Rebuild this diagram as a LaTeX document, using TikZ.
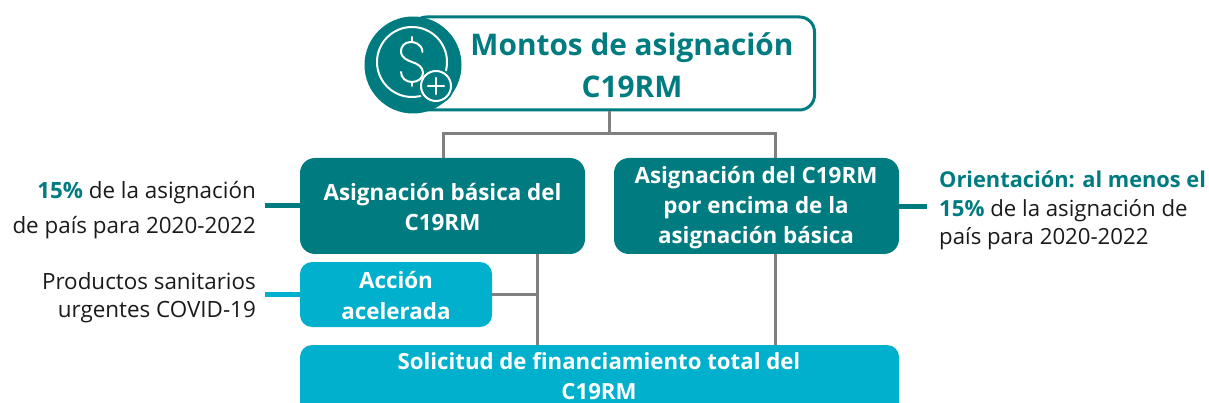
\documentclass[tikz,border=0pt]{standalone}
\usepackage{fontspec}
\setmainfont{Open Sans}
\definecolor{teal1}{HTML}{007C80}
\definecolor{cyan1}{HTML}{00B0CC}
\definecolor{gray1}{HTML}{808080}
\definecolor{ink}{HTML}{1A1A1A}
\tikzset{
  x=1pt,y=-1pt,
  boxdark/.style={fill=teal1,rounded corners=15pt,draw=none},
  boxlight/.style={fill=cyan1,rounded corners=12pt,draw=none},
  boxtext/.style={text=white,align=center,inner sep=0pt},
  side/.style={text=ink,inner sep=0pt},
  conn/.style={draw=gray1,line width=3pt},
  stubdark/.style={draw=teal1,line width=5pt},
  stublight/.style={draw=cyan1,line width=5pt},
  iconline/.style={draw=white,line width=2pt,line cap=round}
}
\begin{document}
\begin{tikzpicture}
\useasboundingbox (0,0) rectangle (1209,403);
\clip (0,0) rectangle (1209,403);
\fill[white] (0,0) rectangle (1209,403);

\node[minimum width=403pt,minimum height=93pt,inner sep=0pt,draw=teal1,line width=3pt,rounded corners=15pt,fill=white] (top) at (613,63.5) {};
\node[circle,fill=teal1,minimum size=97pt,inner sep=0pt] (badge) at (413,65) {};
\node[minimum width=285pt,minimum height=96pt,inner sep=0pt,boxdark] (basic) at (442.5,206) {};
\node[minimum width=285pt,minimum height=96pt,inner sep=0pt,boxdark] (above) at (756.5,206) {};
\node[minimum width=192pt,minimum height=65pt,inner sep=0pt,boxlight] (accel) at (396,294.5) {};
\node[minimum width=599pt,minimum height=80pt,inner sep=0pt,boxlight] (total) at (599.5,385) {};

\coordinate (hub) at (609,134);
\coordinate (hubL) at (443,134);
\coordinate (hubR) at (775,134);
\coordinate (basicdrop) at (537,254);
\coordinate (basicend) at (537,345);
\coordinate (accelj) at (537,294.5);
\coordinate (abovedrop) at (775,254);
\coordinate (aboveend) at (775,345);
\coordinate (stubA) at (265,206);
\coordinate (stubB) at (265,294.5);
\coordinate (stubC) at (927,207);

\draw[conn] (top.south -| hub) -- (hub);
\draw[conn] (hubL |- basic.north) -- (hubL) -- (hubR) -- (hubR |- above.north);
\draw[conn] (basicdrop) -- (basicend);
\draw[conn] (accel.east) -- (accelj);
\draw[conn] (abovedrop) -- (aboveend);
\draw[stubdark] (stubA) -- (basic.west);
\draw[stublight] (stubB) -- (accel.west);
\draw[stubdark] (above.east |- stubC) -- (stubC);

% icon
\draw[iconline] (412,62) circle (35);
\fill[teal1] (436,86) circle (18);
\draw[iconline] (436,86) circle (15);
\draw[iconline,line width=2.4pt] (428,86) -- (444,86) (436,78) -- (436,94);
\draw[iconline] (422.5,52) .. controls (422,43) and (413,42) .. (411,42)
  .. controls (404,42) and (401,47) .. (401,51)
  .. controls (401,58) and (407,60) .. (412,62)
  .. controls (418,64) and (423,67) .. (423,73)
  .. controls (423,78) and (418,82) .. (412,82)
  .. controls (406,82) and (401,78) .. (401,72);
\draw[iconline] (412,42) -- (412,37) (412,82) -- (412,86);

% texts
\node[text=teal1,font=\fontsize{29.8}{42}\selectfont\bfseries,align=center,inner sep=0pt] (toptext) at (632,65) {Montos de asignación\\C19RM};
\node[boxtext,font=\fontsize{22.4}{30}\selectfont\bfseries] (basictext) at (442.5,207) {Asignación básica del\\C19RM};
\node[boxtext,font=\fontsize{22.4}{30}\selectfont\bfseries] (abovetext) at (756,207.5) {Asignación del C19RM\\por encima de la\\asignación básica};
\node[boxtext,font=\fontsize{22.4}{31}\selectfont\bfseries] (acceltext) at (396,295.5) {Acción\\acelerada};
\node[boxtext,anchor=north,font=\fontsize{22.2}{30.5}\selectfont\bfseries] (totaltext) at (599,352) {Solicitud de financiamiento total del\\C19RM};

\node[side,anchor=east,align=right,font=\fontsize{22.4}{35}\selectfont] (lab1) at (256,210) {{\bfseries\color{teal1}15\%} de la asignación\\de país para 2020-2022};
\node[side,anchor=east,align=right,font=\fontsize{22.4}{28}\selectfont] (lab2) at (256,298) {Productos sanitarios\\urgentes COVID-19};
\node[side,anchor=west,align=left,font=\fontsize{22.2}{28.5}\selectfont] (lab3) at (939,210.5) {{\fontsize{21.8}{28.5}\selectfont\bfseries\color{teal1}Orientación: al menos el}\\{\bfseries\color{teal1}15\%} de la asignación de\\país para 2020-2022};
\end{tikzpicture}
\end{document}
